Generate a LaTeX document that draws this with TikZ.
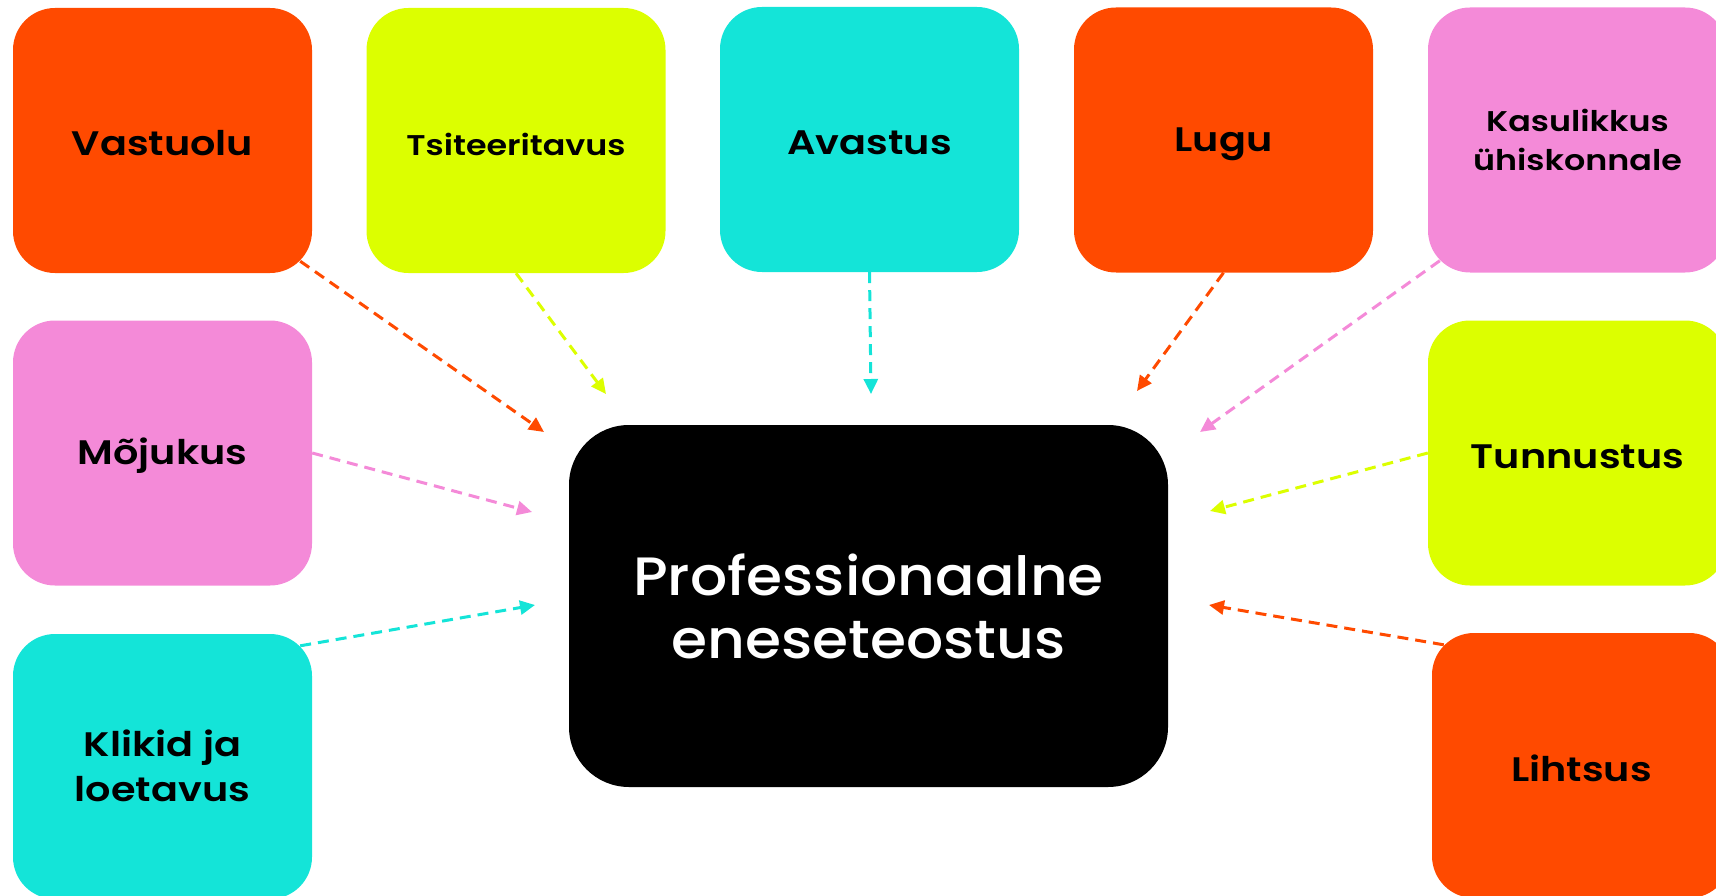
\documentclass[tikz,border=0pt]{standalone}
\usepackage{fontspec}
\setmainfont{Poppins}[UprightFont=* Medium]
\newfontfamily\cardfont{Poppins}[UprightFont=* SemiBold, FakeStretch=1.17]
\newfontfamily\hubfont{Poppins}[UprightFont=* Medium, FakeStretch=1.08]
\usepackage{xcolor}
\usetikzlibrary{arrows.meta}

\definecolor{hot}{HTML}{FF4A00}
\definecolor{lime}{HTML}{DCFF00}
\definecolor{aqua}{HTML}{14E4D8}
\definecolor{rose}{HTML}{F48AD8}

\tikzset{
  card/.style  = {rectangle, rounded corners=42pt, minimum width=299pt,
                  minimum height=265pt, inner sep=0pt, align=center,
                  font=\cardfont\fontsize{34}{45}\selectfont,
                  execute at begin node=\rule{0pt}{32pt},
                  execute at end node=\rule[-1pt]{0pt}{1pt}},
  small/.style = {font=\cardfont\fontsize{28.5}{39}\selectfont},
  hub/.style   = {rectangle, rounded corners=60pt, fill=black, text=white,
                  minimum width=599pt, minimum height=362pt, align=center,
                  font=\hubfont\fontsize{54}{63}\selectfont},
  link/.style  = {line width=3pt, dash pattern=on 11pt off 7pt,
                  -{Triangle[length=15pt,width=14pt]}}
}

\begin{document}
\begin{tikzpicture}[x=1pt, y=-1pt]
    \useasboundingbox (0,0) rectangle (1716,896);

    \node[hub] (PE) at (868.5,606) {Professionaalne\\eneseteostus};

    % top row
    \node[card, fill=hot]         (Vas) at (162.5,140.5)  {Vastuolu};
    \node[card, fill=lime, small] (Tsi) at (516,140.5)    {Tsiteeritavus};
    \node[card, fill=aqua]        (Ava) at (869.5,139.5)  {Avastus};
    \node[card, fill=hot]         (Lug) at (1223.5,140)   {Lugu};
    \node[card, fill=rose, small] (Kas) at (1577.5,140)   {Kasulikkus\\ühiskonnale};

    % sides
    \node[card, fill=rose] (Moj) at (162.5,453)   {Mõjukus};
    \node[card, fill=aqua] (Kli) at (162.5,766.5) {Klikid ja\\loetavus};
    \node[card, fill=lime] (Tun) at (1577.5,453)  {Tunnustus};
    \node[card, fill=hot]  (Lih) at (1581.5,765.5) {Lihtsus};

    % arrow ends around the hub
    \coordinate (eVas) at (544,432);
    \coordinate (eTsi) at (606,394);
    \coordinate (eAva) at (871,394);
    \coordinate (eLug) at (1137,391);
    \coordinate (eKas) at (1200,432);
    \coordinate (eMoj) at (532,512);
    \coordinate (eKli) at (535,605);
    \coordinate (eTun) at (1210,511);
    \coordinate (eLih) at (1209,605);

    \draw[link, hot]  ([shift={(-12pt,12pt)}]Vas.south east) -- (eVas);
    \draw[link, lime] (Tsi.south) -- (eTsi);
    \draw[link, aqua] (Ava.south) -- (eAva);
    \draw[link, hot]  (Lug.south) -- (eLug);
    \draw[link, rose] ([shift={(12pt,12pt)}]Kas.south west) -- (eKas);
    \draw[link, rose] (Moj.east) -- (eMoj);
    \draw[link, aqua] ([shift={(-12pt,-12pt)}]Kli.north east) -- (eKli);
    \draw[link, lime] (Tun.west) -- (eTun);
    \draw[link, hot]  ([shift={(12pt,-12pt)}]Lih.north west) -- (eLih);
\end{tikzpicture}
\end{document}
